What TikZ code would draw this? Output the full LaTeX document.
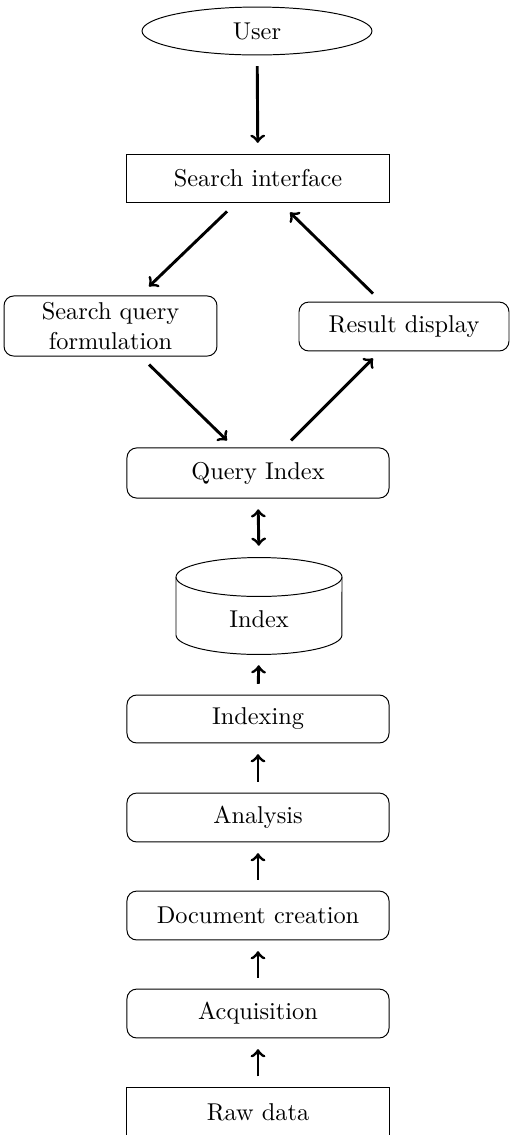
\documentclass[tikz,border=0pt]{standalone}
\usetikzlibrary{shapes.geometric,calc}
\tikzset{
  rbox/.style={draw, rounded corners=4pt, align=center, inner sep=0pt},
  sbox/.style={draw, align=center, inner sep=0pt},
  arr/.style={->, very thick},
  varr/.style={->, very thick, shorten >=4.4pt, shorten <=4.4pt},
}
\begin{document}
\begin{tikzpicture}[x=0.411pt,y=-0.411pt]
\useasboundingbox (0,0) rectangle (509,1135);
\node[ellipse, draw, inner sep=0pt, minimum width=94.5pt, minimum height=19.7pt] (user) at (257,31) {User};
\node[sbox, minimum width=107.7pt, minimum height=20.1pt] (si) at (258,178.5) {Search interface};
\node[rbox, minimum width=87.5pt, minimum height=24.7pt] (sq) at (110.5,326) {Search query\\formulation};
\node[rbox, minimum width=86.3pt, minimum height=20.1pt] (rd) at (404,326.5) {Result display};
\node[rbox, minimum width=107.7pt, minimum height=20.6pt] (qi) at (258,473) {Query Index};
% cylinder
\node[minimum width=68.2pt, minimum height=39.9pt, inner sep=0pt] (idx) at (259,605.5) {};
\draw (176,577) -- (176,635) arc[start angle=180, end angle=360, x radius=34.1pt, y radius=8pt] -- (342,577);
\draw (259,577) ellipse[x radius=34.1pt, y radius=8pt];
\node (idxtext) at (259,619) {Index};
\node[rbox, minimum width=107.7pt, minimum height=19.7pt] (ixg) at (258,719) {Indexing};
\node[rbox, minimum width=107.7pt, minimum height=20.1pt] (ana) at (258,817.5) {Analysis};
\node[rbox, minimum width=107.7pt, minimum height=20.1pt] (doc) at (258,915.5) {Document creation};
\node[rbox, minimum width=107.7pt, minimum height=20.1pt] (acq) at (258,1013.5) {Acquisition};
\node[sbox, minimum width=107.7pt, minimum height=20.1pt] (raw) at (258,1112) {Raw data};
% connectors
\draw[varr] (user) -- (si);
\draw[arr] ($(si.south)+(-31,8)$) -- ($(sq.north)+(38.5,-9)$);
\draw[arr] ($(rd.north)+(-31,-8)$) -- ($(si.south)+(32,9)$);
\draw[arr] ($(sq.south)+(38.5,8)$) -- ($(qi.north)+(-31,-7)$);
\draw[arr] ($(qi.north)+(33,-7)$) -- ($(rd.south)+(-31,7)$);
\draw[varr, <->] (qi.south) -- (idx.north);
\draw[varr] (ixg.north) -- (idx.south);
\draw[varr] (ana) -- (ixg);
\draw[varr] (doc) -- (ana);
\draw[varr] (acq) -- (doc);
\draw[varr] (raw) -- (acq);
\end{tikzpicture}
\end{document}
